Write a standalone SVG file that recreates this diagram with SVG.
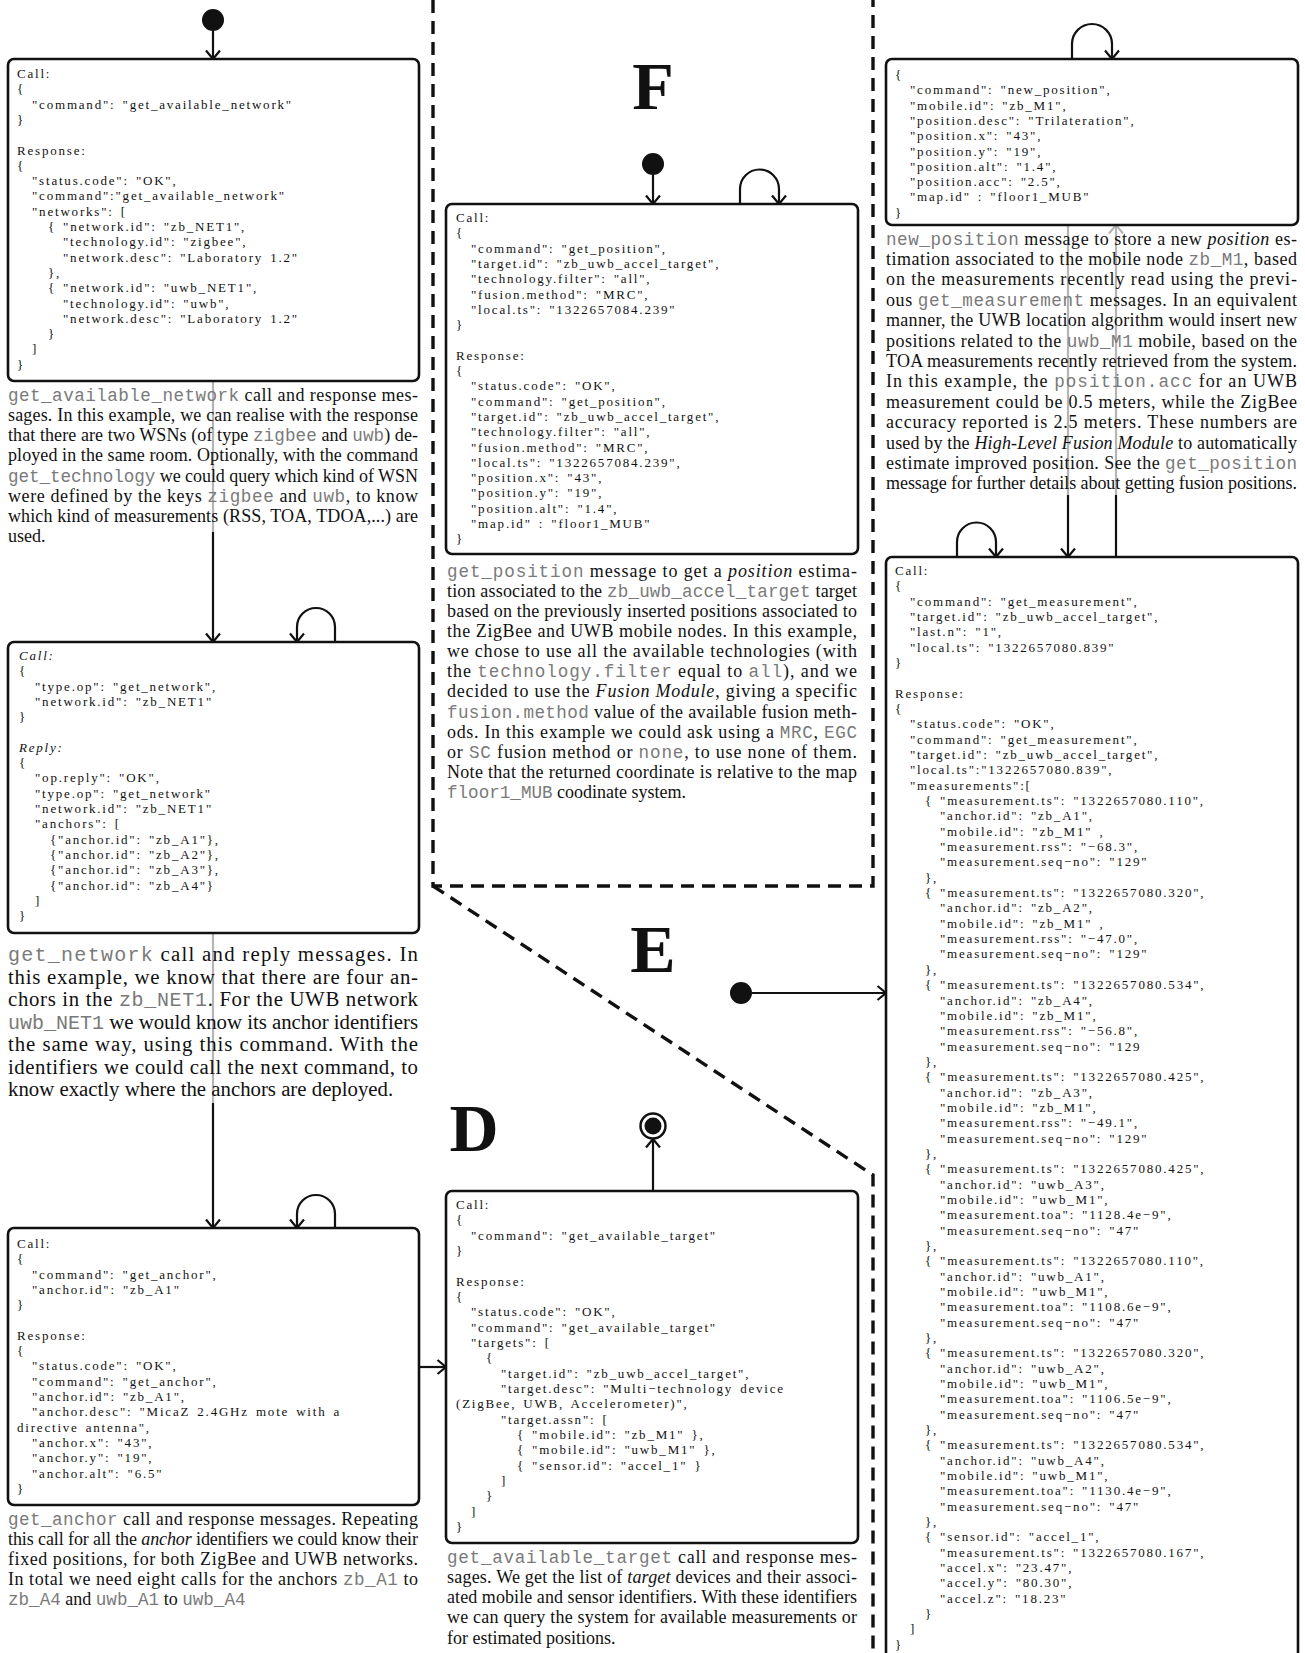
<svg xmlns="http://www.w3.org/2000/svg" width="1305" height="1653" viewBox="0 0 1305 1653">
<style>
.code{font-family:"Liberation Serif",serif;font-size:13px;letter-spacing:1.8px;word-spacing:2px;fill:#111}
.it{font-style:italic}
.cap{font-family:"Liberation Serif",serif;font-size:18px;fill:#111}
.cap2{font-family:"Liberation Serif",serif;font-size:20.8px;fill:#111}
.m{font-family:"Liberation Mono",monospace;font-size:17.6px;fill:#7a7a7a}
.cap2 .m{font-size:20px}
.i{font-style:italic}
.big{font-family:"Liberation Serif",serif;font-weight:bold;font-size:68px;fill:#111;text-anchor:middle}
.box{fill:#fff;stroke:#111;stroke-width:2.6}
.dash{fill:none;stroke:#111;stroke-width:3.4;stroke-dasharray:13 8}
.ln{fill:none;stroke:#111;stroke-width:2.2}
.gl{fill:none;stroke:#b5b5b5;stroke-width:2.2}
.dot{fill:#111}
</style>
<defs>
<marker id="ah" markerUnits="userSpaceOnUse" markerWidth="16" markerHeight="16" refX="10" refY="8" orient="auto" viewBox="0 0 16 16"><path d="M1.5,1 L10,8 L1.5,15" fill="none" stroke="#111" stroke-width="2.2"/></marker>
<marker id="ahg" markerUnits="userSpaceOnUse" markerWidth="16" markerHeight="16" refX="10" refY="8" orient="auto" viewBox="0 0 16 16"><path d="M1.5,1 L10,8 L1.5,15" fill="none" stroke="#b5b5b5" stroke-width="2.2"/></marker>
</defs>
<rect width="1305" height="1653" fill="#fff"/>

<g id="regions">
<path class="dash" d="M433,0 V886 H873 V0"/>
<path class="dash" d="M433,886 L873,1175 V1653"/>
<text class="big" x="653" y="109">F</text>
<text class="big" x="653" y="972">E</text>
<text class="big" x="474" y="1151">D</text>
</g>

<g id="connectors">
<path class="ln" d="M213,31 V59" marker-end="url(#ah)"/>
<path class="gl" d="M213,381 V532"/>
<path class="ln" d="M213,532 V642" marker-end="url(#ah)"/>
<path class="gl" d="M213,933 V1103"/>
<path class="ln" d="M213,1103 V1228" marker-end="url(#ah)"/>
<path class="ln" d="M335,642 V627 A19,19 0 0 0 297,627 V642" marker-end="url(#ah)"/>
<path class="ln" d="M335,1228 V1214 A19,19 0 0 0 297,1214 V1228" marker-end="url(#ah)"/>
<path class="ln" d="M419,1367 H446" marker-end="url(#ah)"/>
<path class="ln" d="M653,1191 V1139" marker-end="url(#ah)"/>
<path class="ln" d="M653,175 V204" marker-end="url(#ah)"/>
<path class="ln" d="M740,204 V189 A19.5,19.5 0 0 1 779,189 V204" marker-end="url(#ah)"/>
<path class="ln" d="M1072,59 V44 A20,20 0 0 1 1112,44 V59" marker-end="url(#ah)"/>
<path class="ln" d="M957,557 V542 A19.5,19.5 0 0 1 996,542 V557" marker-end="url(#ah)"/>
<path class="ln" d="M752,993 H886" marker-end="url(#ah)"/>
<path class="gl" d="M1068,225 V495"/>
<path class="ln" d="M1068,495 V557" marker-end="url(#ah)"/>
<path class="ln" d="M1116,557 V495"/>
<path class="gl" d="M1116,495 V225" marker-end="url(#ahg)"/>
</g>

<g id="start-A"><circle class="dot" cx="213" cy="20" r="11"/></g>
<g id="start-F"><circle class="dot" cx="653" cy="164" r="11"/></g>
<g id="start-E"><circle class="dot" cx="741" cy="993" r="11"/></g>
<g id="end-D"><circle cx="653" cy="1126" r="12.5" fill="#fff" stroke="#111" stroke-width="2.5"/><circle class="dot" cx="653" cy="1126" r="8.5"/></g>

<g id="get_available_network">
<rect class="box" x="8" y="59" width="411" height="322" rx="6"/>
<text class="code">
<tspan x="17" y="78">Call:</tspan>
<tspan x="17" dy="15.3">{</tspan>
<tspan x="32" dy="15.3">"command": "get_available_network"</tspan>
<tspan x="17" dy="15.3">}</tspan>
<tspan x="17" dy="30.6">Response:</tspan>
<tspan x="17" dy="15.3">{</tspan>
<tspan x="32" dy="15.3">"status.code": "OK",</tspan>
<tspan x="32" dy="15.3">"command":"get_available_network"</tspan>
<tspan x="32" dy="15.3">"networks": [</tspan>
<tspan x="48" dy="15.3">{ "network.id": "zb_NET1",</tspan>
<tspan x="63" dy="15.3">"technology.id": "zigbee",</tspan>
<tspan x="63" dy="15.3">"network.desc": "Laboratory 1.2"</tspan>
<tspan x="48" dy="15.3">},</tspan>
<tspan x="48" dy="15.3">{ "network.id": "uwb_NET1",</tspan>
<tspan x="63" dy="15.3">"technology.id": "uwb",</tspan>
<tspan x="63" dy="15.3">"network.desc": "Laboratory 1.2"</tspan>
<tspan x="48" dy="15.3">}</tspan>
<tspan x="32" dy="15.3">]</tspan>
<tspan x="17" dy="15.3">}</tspan>
</text>
<text class="cap" x="8" y="401" textLength="410" lengthAdjust="spacing"><tspan class="m">get_available_network</tspan> call and response mes-</text>
<text class="cap" x="8" y="421.15" textLength="410" lengthAdjust="spacing">sages. In this example, we can realise with the response</text>
<text class="cap" x="8" y="441.3" textLength="410" lengthAdjust="spacing">that there are two WSNs (of type <tspan class="m">zigbee</tspan> and <tspan class="m">uwb</tspan>) de-</text>
<text class="cap" x="8" y="461.45" textLength="410" lengthAdjust="spacing">ployed in the same room. Optionally, with the command</text>
<text class="cap" x="8" y="481.6" textLength="410" lengthAdjust="spacing"><tspan class="m">get_technology</tspan> we could query which kind of WSN</text>
<text class="cap" x="8" y="501.75" textLength="410" lengthAdjust="spacing">were defined by the keys <tspan class="m">zigbee</tspan> and <tspan class="m">uwb</tspan>, to know</text>
<text class="cap" x="8" y="521.9" textLength="410" lengthAdjust="spacing">which kind of measurements (RSS, TOA, TDOA,...) are</text>
<text class="cap" x="8" y="542.05">used.</text>
</g>

<g id="get_network">
<rect class="box" x="8" y="642" width="411" height="291" rx="6"/>
<text class="code">
<tspan class="it" x="19" y="660">Call:</tspan>
<tspan x="19" dy="15.3">{</tspan>
<tspan x="35" dy="15.3">"type.op": "get_network",</tspan>
<tspan x="35" dy="15.3">"network.id": "zb_NET1"</tspan>
<tspan x="19" dy="15.3">}</tspan>
<tspan class="it" x="19" dy="30.6">Reply:</tspan>
<tspan x="19" dy="15.3">{</tspan>
<tspan x="35" dy="15.3">"op.reply": "OK",</tspan>
<tspan x="35" dy="15.3">"type.op": "get_network"</tspan>
<tspan x="35" dy="15.3">"network.id": "zb_NET1"</tspan>
<tspan x="35" dy="15.3">"anchors": [</tspan>
<tspan x="50" dy="15.3">{"anchor.id": "zb_A1"},</tspan>
<tspan x="50" dy="15.3">{"anchor.id": "zb_A2"},</tspan>
<tspan x="50" dy="15.3">{"anchor.id": "zb_A3"},</tspan>
<tspan x="50" dy="15.3">{"anchor.id": "zb_A4"}</tspan>
<tspan x="35" dy="15.3">]</tspan>
<tspan x="19" dy="15.3">}</tspan>
</text>
<text class="cap2" x="8" y="961" textLength="410" lengthAdjust="spacing"><tspan class="m">get_network</tspan> call and reply messages. In</text>
<text class="cap2" x="8" y="983.5" textLength="410" lengthAdjust="spacing">this example, we know that there are four an-</text>
<text class="cap2" x="8" y="1006" textLength="410" lengthAdjust="spacing">chors in the <tspan class="m">zb_NET1</tspan>. For the UWB network</text>
<text class="cap2" x="8" y="1028.5" textLength="410" lengthAdjust="spacing"><tspan class="m">uwb_NET1</tspan> we would know its anchor identifiers</text>
<text class="cap2" x="8" y="1051" textLength="410" lengthAdjust="spacing">the same way, using this command. With the</text>
<text class="cap2" x="8" y="1073.5" textLength="410" lengthAdjust="spacing">identifiers we could call the next command, to</text>
<text class="cap2" x="8" y="1096">know exactly where the anchors are deployed.</text>
</g>

<g id="get_anchor">
<rect class="box" x="8" y="1228" width="411" height="277" rx="6"/>
<text class="code">
<tspan x="17" y="1248">Call:</tspan>
<tspan x="17" dy="15.3">{</tspan>
<tspan x="32" dy="15.3">"command": "get_anchor",</tspan>
<tspan x="32" dy="15.3">"anchor.id": "zb_A1"</tspan>
<tspan x="17" dy="15.3">}</tspan>
<tspan x="17" dy="30.6">Response:</tspan>
<tspan x="17" dy="15.3">{</tspan>
<tspan x="32" dy="15.3">"status.code": "OK",</tspan>
<tspan x="32" dy="15.3">"command": "get_anchor",</tspan>
<tspan x="32" dy="15.3">"anchor.id": "zb_A1",</tspan>
<tspan x="32" dy="15.3">"anchor.desc": "MicaZ 2.4GHz mote with a</tspan>
<tspan x="17" dy="15.3">directive antenna",</tspan>
<tspan x="32" dy="15.3">"anchor.x": "43",</tspan>
<tspan x="32" dy="15.3">"anchor.y": "19",</tspan>
<tspan x="32" dy="15.3">"anchor.alt": "6.5"</tspan>
<tspan x="17" dy="15.3">}</tspan>
</text>
<text class="cap" x="8" y="1524.5" textLength="410" lengthAdjust="spacing"><tspan class="m">get_anchor</tspan> call and response messages. Repeating</text>
<text class="cap" x="8" y="1544.7" textLength="410" lengthAdjust="spacing">this call for all the <tspan class="i">anchor</tspan> identifiers we could know their</text>
<text class="cap" x="8" y="1564.9" textLength="410" lengthAdjust="spacing">fixed positions, for both ZigBee and UWB networks.</text>
<text class="cap" x="8" y="1585.1" textLength="410" lengthAdjust="spacing">In total we need eight calls for the anchors <tspan class="m">zb_A1</tspan> to</text>
<text class="cap" x="8" y="1605.3"><tspan class="m">zb_A4</tspan> and <tspan class="m">uwb_A1</tspan> to <tspan class="m">uwb_A4</tspan></text>
</g>

<g id="get_position">
<rect class="box" x="446" y="204" width="412" height="350" rx="6"/>
<text class="code">
<tspan x="456" y="222">Call:</tspan>
<tspan x="456" dy="15.3">{</tspan>
<tspan x="471" dy="15.3">"command": "get_position",</tspan>
<tspan x="471" dy="15.3">"target.id": "zb_uwb_accel_target",</tspan>
<tspan x="471" dy="15.3">"technology.filter": "all",</tspan>
<tspan x="471" dy="15.3">"fusion.method": "MRC",</tspan>
<tspan x="471" dy="15.3">"local.ts": "1322657084.239"</tspan>
<tspan x="456" dy="15.3">}</tspan>
<tspan x="456" dy="30.6">Response:</tspan>
<tspan x="456" dy="15.3">{</tspan>
<tspan x="471" dy="15.3">"status.code": "OK",</tspan>
<tspan x="471" dy="15.3">"command": "get_position",</tspan>
<tspan x="471" dy="15.3">"target.id": "zb_uwb_accel_target",</tspan>
<tspan x="471" dy="15.3">"technology.filter": "all",</tspan>
<tspan x="471" dy="15.3">"fusion.method": "MRC",</tspan>
<tspan x="471" dy="15.3">"local.ts": "1322657084.239",</tspan>
<tspan x="471" dy="15.3">"position.x": "43",</tspan>
<tspan x="471" dy="15.3">"position.y": "19",</tspan>
<tspan x="471" dy="15.3">"position.alt": "1.4",</tspan>
<tspan x="471" dy="15.3">"map.id" : "floor1_MUB"</tspan>
<tspan x="456" dy="15.3">}</tspan>
</text>
<text class="cap" x="447" y="576.5" textLength="410" lengthAdjust="spacing"><tspan class="m">get_position</tspan> message to get a <tspan class="i">position</tspan> estima-</text>
<text class="cap" x="447" y="596.65" textLength="410" lengthAdjust="spacing">tion associated to the <tspan class="m">zb_uwb_accel_target</tspan> target</text>
<text class="cap" x="447" y="616.8" textLength="410" lengthAdjust="spacing">based on the previously inserted positions associated to</text>
<text class="cap" x="447" y="636.95" textLength="410" lengthAdjust="spacing">the ZigBee and UWB mobile nodes. In this example,</text>
<text class="cap" x="447" y="657.1" textLength="410" lengthAdjust="spacing">we chose to use all the available technologies (with</text>
<text class="cap" x="447" y="677.25" textLength="410" lengthAdjust="spacing">the <tspan class="m">technology.filter</tspan> equal to <tspan class="m">all</tspan>), and we</text>
<text class="cap" x="447" y="697.4" textLength="410" lengthAdjust="spacing">decided to use the <tspan class="i">Fusion Module</tspan>, giving a specific</text>
<text class="cap" x="447" y="717.55" textLength="410" lengthAdjust="spacing"><tspan class="m">fusion.method</tspan> value of the available fusion meth-</text>
<text class="cap" x="447" y="737.7" textLength="410" lengthAdjust="spacing">ods. In this example we could ask using a <tspan class="m">MRC</tspan>, <tspan class="m">EGC</tspan></text>
<text class="cap" x="447" y="757.85" textLength="410" lengthAdjust="spacing">or <tspan class="m">SC</tspan> fusion method or <tspan class="m">none</tspan>, to use none of them.</text>
<text class="cap" x="447" y="778" textLength="410" lengthAdjust="spacing">Note that the returned coordinate is relative to the map</text>
<text class="cap" x="447" y="798.15"><tspan class="m">floor1_MUB</tspan> coodinate system.</text>
</g>

<g id="new_position">
<rect class="box" x="886" y="59" width="412" height="166" rx="6"/>
<text class="code">
<tspan x="895" y="79">{</tspan>
<tspan x="910" dy="15.3">"command": "new_position",</tspan>
<tspan x="910" dy="15.3">"mobile.id": "zb_M1",</tspan>
<tspan x="910" dy="15.3">"position.desc": "Trilateration",</tspan>
<tspan x="910" dy="15.3">"position.x": "43",</tspan>
<tspan x="910" dy="15.3">"position.y": "19",</tspan>
<tspan x="910" dy="15.3">"position.alt": "1.4",</tspan>
<tspan x="910" dy="15.3">"position.acc": "2.5",</tspan>
<tspan x="910" dy="15.3">"map.id" : "floor1_MUB"</tspan>
<tspan x="895" dy="15.3">}</tspan>
</text>
<text class="cap" x="886" y="244.5" textLength="411" lengthAdjust="spacing"><tspan class="m">new_position</tspan> message to store a new <tspan class="i">position</tspan> es-</text>
<text class="cap" x="886" y="264.9" textLength="411" lengthAdjust="spacing">timation associated to the mobile node <tspan class="m">zb_M1</tspan>, based</text>
<text class="cap" x="886" y="285.3" textLength="411" lengthAdjust="spacing">on the measurements recently read using the previ-</text>
<text class="cap" x="886" y="305.7" textLength="411" lengthAdjust="spacing">ous <tspan class="m">get_measurement</tspan> messages. In an equivalent</text>
<text class="cap" x="886" y="326.1" textLength="411" lengthAdjust="spacing">manner, the UWB location algorithm would insert new</text>
<text class="cap" x="886" y="346.5" textLength="411" lengthAdjust="spacing">positions related to the <tspan class="m">uwb_M1</tspan> mobile, based on the</text>
<text class="cap" x="886" y="366.9" textLength="411" lengthAdjust="spacing">TOA measurements recently retrieved from the system.</text>
<text class="cap" x="886" y="387.3" textLength="411" lengthAdjust="spacing">In this example, the <tspan class="m">position.acc</tspan> for an UWB</text>
<text class="cap" x="886" y="407.7" textLength="411" lengthAdjust="spacing">measurement could be 0.5 meters, while the ZigBee</text>
<text class="cap" x="886" y="428.1" textLength="411" lengthAdjust="spacing">accuracy reported is 2.5 meters. These numbers are</text>
<text class="cap" x="886" y="448.5" textLength="411" lengthAdjust="spacing">used by the <tspan class="i">High-Level Fusion Module</tspan> to automatically</text>
<text class="cap" x="886" y="468.9" textLength="411" lengthAdjust="spacing">estimate improved position. See the <tspan class="m">get_position</tspan></text>
<text class="cap" x="886" y="489.3" textLength="411" lengthAdjust="spacing">message for further details about getting fusion positions.</text>
</g>

<g id="get_measurement">
<rect class="box" x="886" y="557" width="412" height="1110" rx="6"/>
<text class="code">
<tspan x="895" y="575">Call:</tspan>
<tspan x="895" dy="15.34">{</tspan>
<tspan x="910" dy="15.34">"command": "get_measurement",</tspan>
<tspan x="910" dy="15.34">"target.id": "zb_uwb_accel_target",</tspan>
<tspan x="910" dy="15.34">"last.n": "1",</tspan>
<tspan x="910" dy="15.34">"local.ts": "1322657080.839"</tspan>
<tspan x="895" dy="15.34">}</tspan>
<tspan x="895" dy="30.68">Response:</tspan>
<tspan x="895" dy="15.34">{</tspan>
<tspan x="910" dy="15.34">"status.code": "OK",</tspan>
<tspan x="910" dy="15.34">"command": "get_measurement",</tspan>
<tspan x="910" dy="15.34">"target.id": "zb_uwb_accel_target",</tspan>
<tspan x="910" dy="15.34">"local.ts":"1322657080.839",</tspan>
<tspan x="910" dy="15.34">"measurements":[</tspan>
<tspan x="925" dy="15.34">{ "measurement.ts": "1322657080.110",</tspan>
<tspan x="940" dy="15.34">"anchor.id": "zb_A1",</tspan>
<tspan x="940" dy="15.34">"mobile.id": "zb_M1" ,</tspan>
<tspan x="940" dy="15.34">"measurement.rss": "−68.3",</tspan>
<tspan x="940" dy="15.34">"measurement.seq−no": "129"</tspan>
<tspan x="925" dy="15.34">},</tspan>
<tspan x="925" dy="15.34">{ "measurement.ts": "1322657080.320",</tspan>
<tspan x="940" dy="15.34">"anchor.id": "zb_A2",</tspan>
<tspan x="940" dy="15.34">"mobile.id": "zb_M1" ,</tspan>
<tspan x="940" dy="15.34">"measurement.rss": "−47.0",</tspan>
<tspan x="940" dy="15.34">"measurement.seq−no": "129"</tspan>
<tspan x="925" dy="15.34">},</tspan>
<tspan x="925" dy="15.34">{ "measurement.ts": "1322657080.534",</tspan>
<tspan x="940" dy="15.34">"anchor.id": "zb_A4",</tspan>
<tspan x="940" dy="15.34">"mobile.id": "zb_M1",</tspan>
<tspan x="940" dy="15.34">"measurement.rss": "−56.8",</tspan>
<tspan x="940" dy="15.34">"measurement.seq−no": "129</tspan>
<tspan x="925" dy="15.34">},</tspan>
<tspan x="925" dy="15.34">{ "measurement.ts": "1322657080.425",</tspan>
<tspan x="940" dy="15.34">"anchor.id": "zb_A3",</tspan>
<tspan x="940" dy="15.34">"mobile.id": "zb_M1",</tspan>
<tspan x="940" dy="15.34">"measurement.rss": "−49.1",</tspan>
<tspan x="940" dy="15.34">"measurement.seq−no": "129"</tspan>
<tspan x="925" dy="15.34">},</tspan>
<tspan x="925" dy="15.34">{ "measurement.ts": "1322657080.425",</tspan>
<tspan x="940" dy="15.34">"anchor.id": "uwb_A3",</tspan>
<tspan x="940" dy="15.34">"mobile.id": "uwb_M1",</tspan>
<tspan x="940" dy="15.34">"measurement.toa": "1128.4e−9",</tspan>
<tspan x="940" dy="15.34">"measurement.seq−no": "47"</tspan>
<tspan x="925" dy="15.34">},</tspan>
<tspan x="925" dy="15.34">{ "measurement.ts": "1322657080.110",</tspan>
<tspan x="940" dy="15.34">"anchor.id": "uwb_A1",</tspan>
<tspan x="940" dy="15.34">"mobile.id": "uwb_M1",</tspan>
<tspan x="940" dy="15.34">"measurement.toa": "1108.6e−9",</tspan>
<tspan x="940" dy="15.34">"measurement.seq−no": "47"</tspan>
<tspan x="925" dy="15.34">},</tspan>
<tspan x="925" dy="15.34">{ "measurement.ts": "1322657080.320",</tspan>
<tspan x="940" dy="15.34">"anchor.id": "uwb_A2",</tspan>
<tspan x="940" dy="15.34">"mobile.id": "uwb_M1",</tspan>
<tspan x="940" dy="15.34">"measurement.toa": "1106.5e−9",</tspan>
<tspan x="940" dy="15.34">"measurement.seq−no": "47"</tspan>
<tspan x="925" dy="15.34">},</tspan>
<tspan x="925" dy="15.34">{ "measurement.ts": "1322657080.534",</tspan>
<tspan x="940" dy="15.34">"anchor.id": "uwb_A4",</tspan>
<tspan x="940" dy="15.34">"mobile.id": "uwb_M1",</tspan>
<tspan x="940" dy="15.34">"measurement.toa": "1130.4e−9",</tspan>
<tspan x="940" dy="15.34">"measurement.seq−no": "47"</tspan>
<tspan x="925" dy="15.34">},</tspan>
<tspan x="925" dy="15.34">{ "sensor.id": "accel_1",</tspan>
<tspan x="940" dy="15.34">"measurement.ts": "1322657080.167",</tspan>
<tspan x="940" dy="15.34">"accel.x": "23.47",</tspan>
<tspan x="940" dy="15.34">"accel.y": "80.30",</tspan>
<tspan x="940" dy="15.34">"accel.z": "18.23"</tspan>
<tspan x="925" dy="15.34">}</tspan>
<tspan x="910" dy="15.34">]</tspan>
<tspan x="895" dy="15.34">}</tspan>
</text>
</g>

<g id="get_available_target">
<rect class="box" x="446" y="1191" width="412" height="352" rx="6"/>
<text class="code">
<tspan x="456" y="1209">Call:</tspan>
<tspan x="456" dy="15.33">{</tspan>
<tspan x="471" dy="15.33">"command": "get_available_target"</tspan>
<tspan x="456" dy="15.33">}</tspan>
<tspan x="456" dy="30.66">Response:</tspan>
<tspan x="456" dy="15.33">{</tspan>
<tspan x="471" dy="15.33">"status.code": "OK",</tspan>
<tspan x="471" dy="15.33">"command": "get_available_target"</tspan>
<tspan x="471" dy="15.33">"targets": [</tspan>
<tspan x="486" dy="15.33">{</tspan>
<tspan x="501" dy="15.33">"target.id": "zb_uwb_accel_target",</tspan>
<tspan x="501" dy="15.33">"target.desc": "Multi−technology device</tspan>
<tspan x="456" dy="15.33">(ZigBee, UWB, Accelerometer)",</tspan>
<tspan x="501" dy="15.33">"target.assn": [</tspan>
<tspan x="517" dy="15.33">{ "mobile.id": "zb_M1" },</tspan>
<tspan x="517" dy="15.33">{ "mobile.id": "uwb_M1" },</tspan>
<tspan x="517" dy="15.33">{ "sensor.id": "accel_1" }</tspan>
<tspan x="501" dy="15.33">]</tspan>
<tspan x="486" dy="15.33">}</tspan>
<tspan x="471" dy="15.33">]</tspan>
<tspan x="456" dy="15.33">}</tspan>
</text>
<text class="cap" x="447" y="1562.5" textLength="410" lengthAdjust="spacing"><tspan class="m">get_available_target</tspan> call and response mes-</text>
<text class="cap" x="447" y="1582.75" textLength="410" lengthAdjust="spacing">sages. We get the list of <tspan class="i">target</tspan> devices and their associ-</text>
<text class="cap" x="447" y="1603" textLength="410" lengthAdjust="spacing">ated mobile and sensor identifiers. With these identifiers</text>
<text class="cap" x="447" y="1623.25" textLength="410" lengthAdjust="spacing">we can query the system for available measurements or</text>
<text class="cap" x="447" y="1643.5">for estimated positions.</text>
</g>
</svg>
